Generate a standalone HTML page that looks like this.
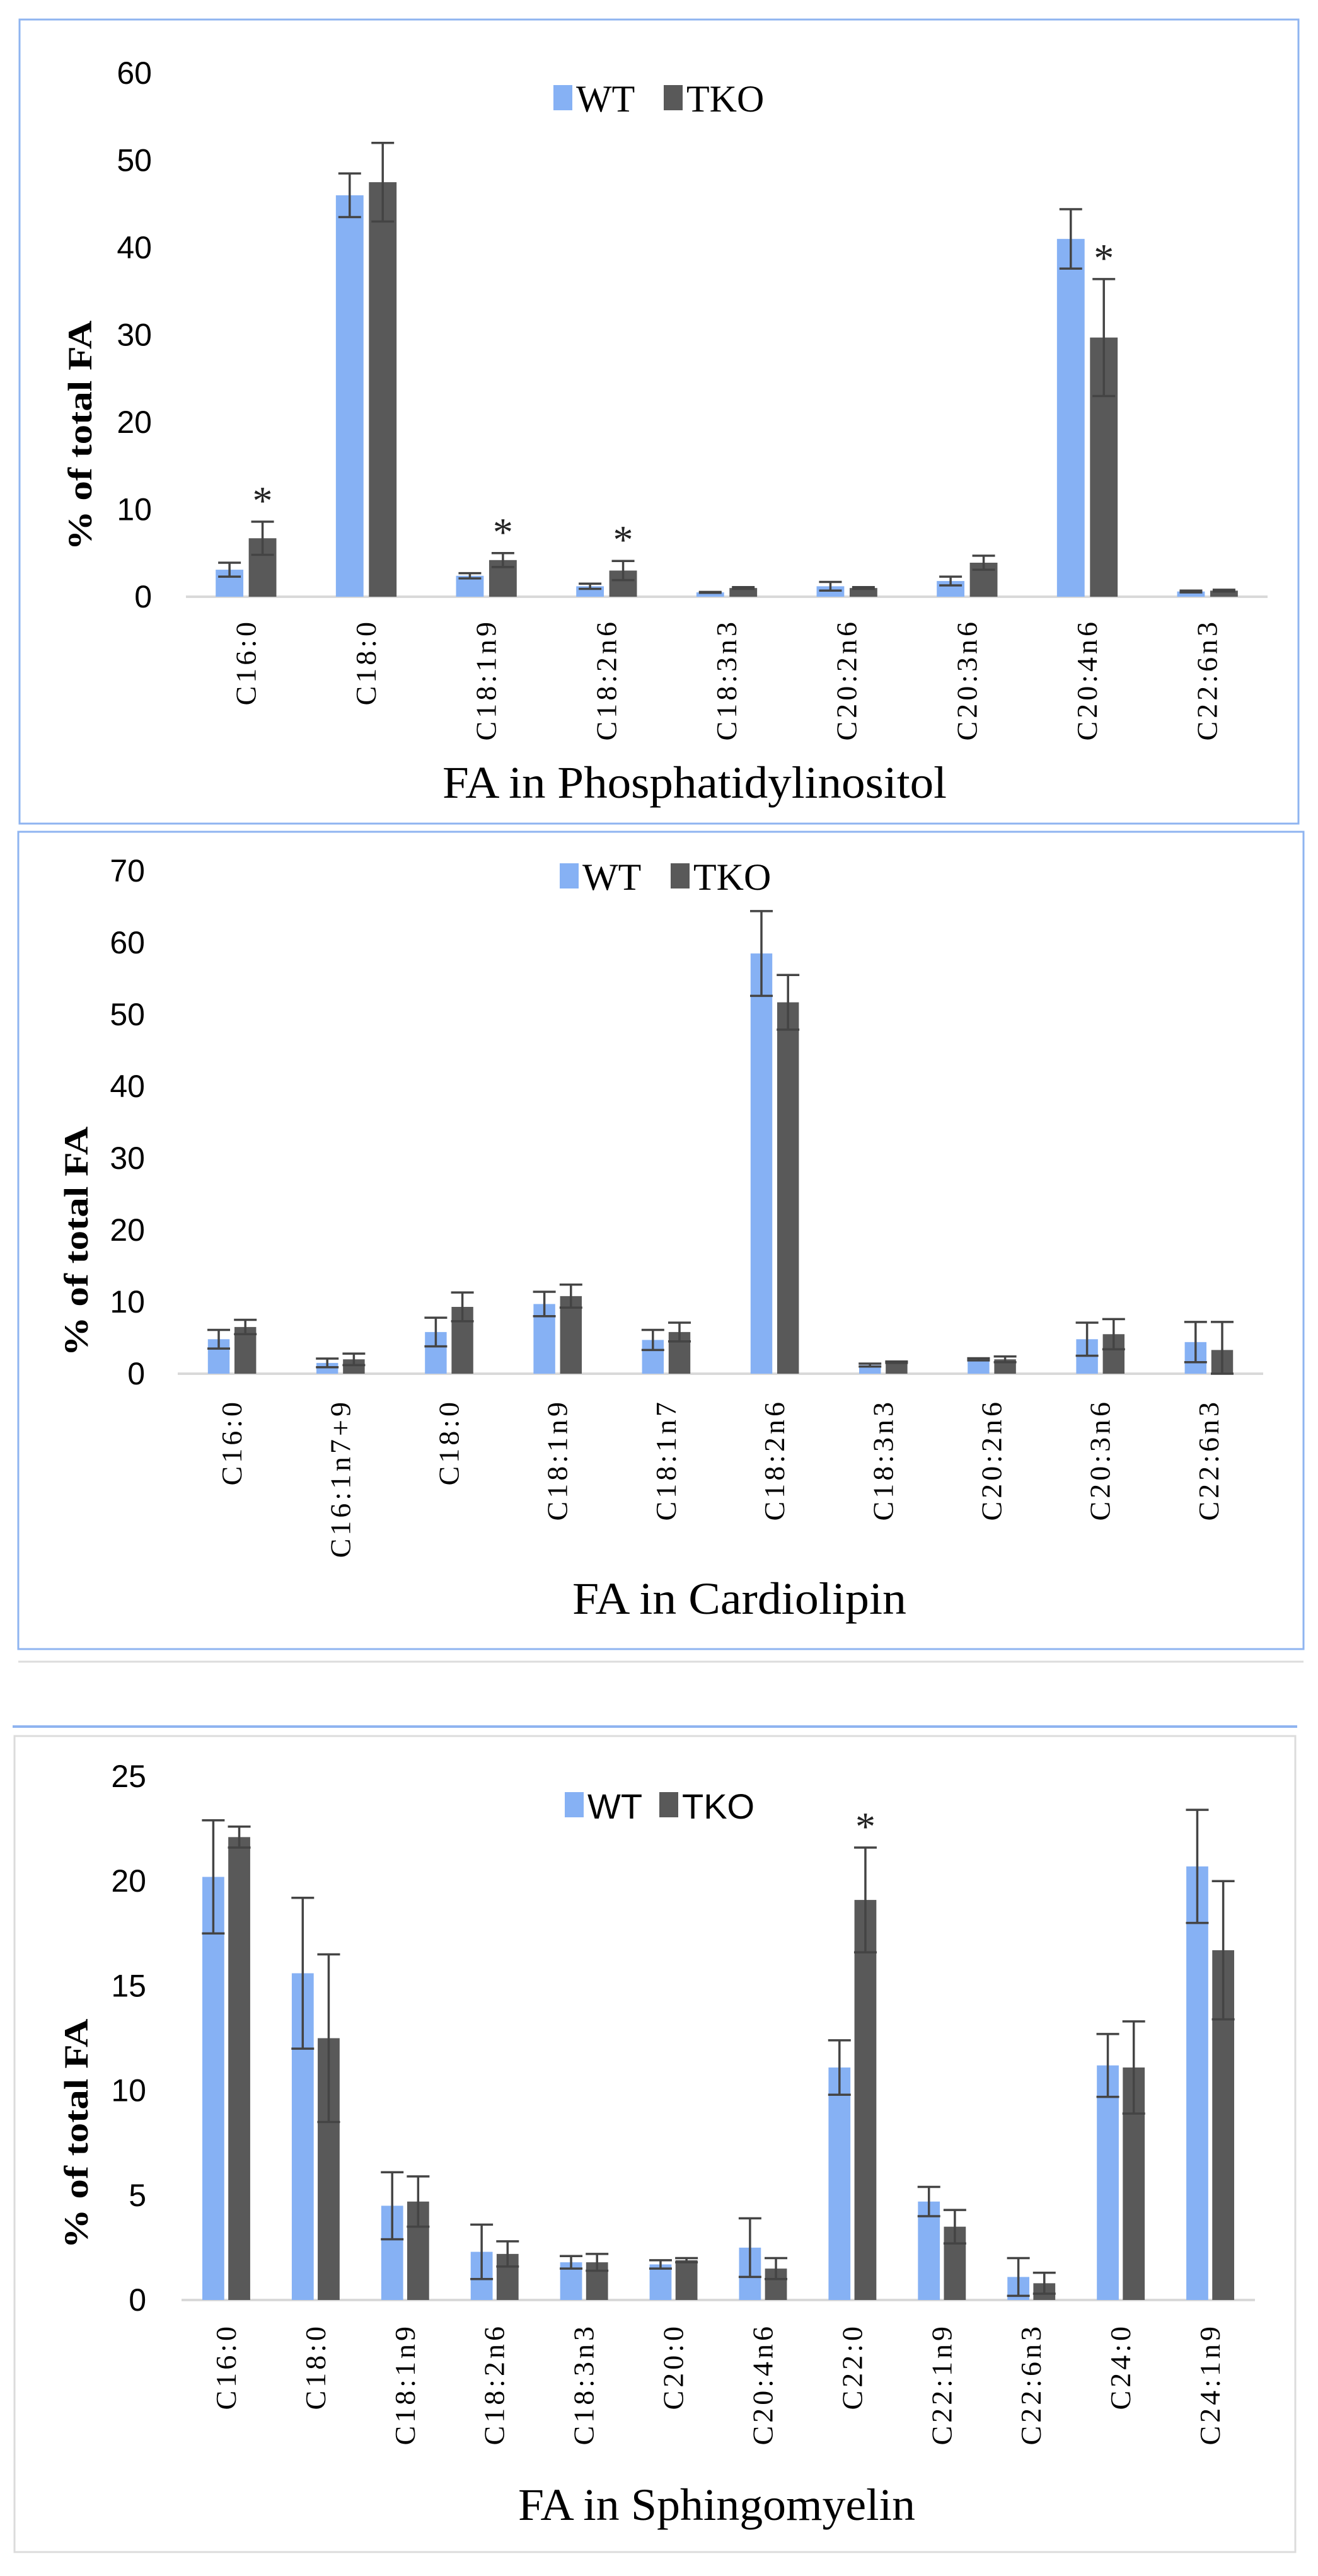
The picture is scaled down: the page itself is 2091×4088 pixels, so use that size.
<!DOCTYPE html>
<html><head><meta charset="utf-8"><style>
html,body{margin:0;padding:0;background:#fff;}
svg{display:block;}
</style></head><body>
<svg id="fig" width="2091" height="4088" viewBox="0 0 2091 4088" xmlns="http://www.w3.org/2000/svg">
  <rect x="0" y="0" width="2091" height="4088" fill="#fff"/>
  <rect x="31" y="31" width="2029" height="1276" fill="none" stroke="#8fb4f0" stroke-width="3"/>
  <rect x="29" y="1320" width="2039" height="1297" fill="none" stroke="#8fb4f0" stroke-width="3"/>
  <line x1="29" y1="2637" x2="2068" y2="2637" stroke="#dcdcdc" stroke-width="3"/>
  <line x1="20" y1="2740" x2="2058" y2="2740" stroke="#8fb4f0" stroke-width="4"/>
  <rect x="23" y="2755" width="2032" height="1295" fill="none" stroke="#dcdcdc" stroke-width="3"/>
  <g id="charts"></g>
</svg>
<script>
// ---- Phosphatidylinositol ----
const piCategories = ["C16:0","C18:0","C18:1n9","C18:2n6","C18:3n3","C20:2n6","C20:3n6","C20:4n6","C22:6n3"];
const piWT = [3.1,46.0,2.4,1.2,0.5,1.2,1.8,41.0,0.6];
const piTKO = [6.7,47.5,4.2,3.0,1.0,1.0,3.9,29.7,0.7];
const piWTErr = [0.8,2.5,0.3,0.3,0.05,0.5,0.5,3.4,0.1];
const piTKOErr = [1.9,4.5,0.8,1.1,0.1,0.1,0.8,6.7,0.1];
const piStars = [1,0,1,1,0,0,0,1,0];
const piTicks = [0,10,20,30,40,50,60];
// ---- Cardiolipin ----
const clCategories = ["C16:0","C16:1n7+9","C18:0","C18:1n9","C18:1n7","C18:2n6","C18:3n3","C20:2n6","C20:3n6","C22:6n3"];
const clWT = [4.8,1.5,5.8,9.7,4.7,58.5,1.2,2.0,4.8,4.4];
const clTKO = [6.5,2.0,9.3,10.8,5.8,51.7,1.6,2.0,5.5,3.3];
const clWTErr = [1.3,0.6,2.0,1.7,1.4,5.9,0.2,0.15,2.3,2.8];
const clTKOErr = [1.0,0.8,2.0,1.6,1.3,3.8,0.1,0.4,2.1,3.9];
const clStars = [0,0,0,0,0,0,0,0,0,0];
const clTicks = [0,10,20,30,40,50,60,70];
// ---- Sphingomyelin ----
const smCategories = ["C16:0","C18:0","C18:1n9","C18:2n6","C18:3n3","C20:0","C20:4n6","C22:0","C22:1n9","C22:6n3","C24:0","C24:1n9"];
const smWT = [20.2,15.6,4.5,2.3,1.8,1.7,2.5,11.1,4.7,1.1,11.2,20.7];
const smTKO = [22.1,12.5,4.7,2.2,1.8,1.9,1.5,19.1,3.5,0.8,11.1,16.7];
const smWTErr = [2.7,3.6,1.6,1.3,0.3,0.2,1.4,1.3,0.7,0.9,1.5,2.7];
const smTKOErr = [0.5,4.0,1.2,0.6,0.4,0.1,0.5,2.5,0.8,0.5,2.2,3.3];
const smStars = [0,0,0,0,0,0,0,1,0,0,0,0];
const smTicks = [0,5,10,15,20,25];

const NS = "http://www.w3.org/2000/svg";
const root = document.getElementById("charts");
function mk(tag, attrs, parent){
  const e = document.createElementNS(NS, tag);
  for (const k in attrs) e.setAttribute(k, attrs[k]);
  (parent||root).appendChild(e);
  return e;
}

function drawChart(id, cats, wt, tko, wtE, tkoE, stars, ticks, L){
  const g = mk("g", {});
  
  
  const maxV = ticks[ticks.length-1];
  const yScale = v => L.base - (v / maxV) * (L.base - L.top);
  const slot = (L.x1 - L.x0) / cats.length;
  const xCenter = i => L.x0 + slot * (i + 0.5);
  const bw = slot * L.bw, gap = slot * 0.045;
  const ax = mk("line", {x1:L.x0, y1:L.base, x2:L.x1, y2:L.base, stroke:"#d9d9d9", "stroke-width":4}, g);
  
  
  ticks.forEach(t => {
    const tx = mk("text", {x:L.tickX, y:yScale(t)+17, "text-anchor":"end", "font-family":'"Liberation Sans Narrow","Liberation Sans",sans-serif', "font-size":L.tickFs, fill:"#000"}, g);
    tx.textContent = t;
    
    
  });
  cats.forEach((c, i) => {
    const cx = xCenter(i);
    const series = [[wt[i], wtE[i], cx - gap/2 - bw, "#86b1f4", "wt"], [tko[i], tkoE[i], cx + gap/2, "#595959", "tko"]];
    series.forEach(s => {
      const y = yScale(s[0]);
      const r = mk("rect", {x:s[2], y:y, width:bw, height:L.base - y, fill:s[3]}, g);
      
      
      const ex = s[2] + bw/2;
      const yt = yScale(s[0] + s[1]), yb = yScale(Math.max(0, s[0] - s[1]));
      const eg = mk("g", {stroke:"#444", "stroke-width":3.5}, g);
      
      
      mk("line", {x1:ex, y1:yt, x2:ex, y2:yb}, eg);
      mk("line", {x1:ex-18, y1:yt, x2:ex+18, y2:yt}, eg);
      mk("line", {x1:ex-18, y1:yb, x2:ex+18, y2:yb}, eg);
    });
    if (stars[i]) {
      const sx = cx + gap/2 + bw/2;
      const st = mk("text", {x:sx, y:yScale(tko[i] + tkoE[i]) - 12, "text-anchor":"middle", "font-family":'"Liberation Serif",serif', "font-size":64, fill:"#222"}, g);
      st.textContent = "*";
      
      
    }
    const lx = cx + 15;
    const lb = mk("text", {x:0, y:0, transform:"translate(" + lx + "," + L.labTop + ") rotate(-90)", "text-anchor":"end", "font-family":'"Liberation Serif",serif', "font-size":L.labFs, "letter-spacing":"5", fill:"#000"}, g);
    lb.textContent = c;
    
    
  });
  const lg = mk("g", {}, g);
  
  
  const lf = L.legSans ? '"Liberation Sans Narrow","Liberation Sans",sans-serif' : '"Liberation Serif",serif';
  const r1 = mk("rect", {x:L.legX, y:L.legY-26, width:30, height:40, fill:"#86b1f4"}, lg);
  
  
  const t1 = mk("text", {x:L.legX+36, y:L.legY+16, "font-family":lf, "font-size":L.legFs, fill:"#000"}, lg);
  t1.textContent = "WT";
  
  
  const r2 = mk("rect", {x:L.legX+L.legGap, y:L.legY-26, width:30, height:40, fill:"#595959"}, lg);
  
  
  const t2 = mk("text", {x:L.legX+L.legGap+36, y:L.legY+16, "font-family":lf, "font-size":L.legFs, fill:"#000"}, lg);
  t2.textContent = "TKO";
  
  
  const yt = mk("text", {x:0, y:0, transform:"translate(" + (L.yTitleX+18) + "," + L.yTitleY + ") rotate(-90)", "text-anchor":"middle", "font-family":'"Liberation Serif",serif', "font-size":54, "font-weight":"bold", textLength:365, lengthAdjust:"spacingAndGlyphs", fill:"#000"}, g);
  yt.textContent = "% of total FA";
  
  
  const xt = mk("text", {x:L.xTitleX, y:L.xTitleY+24, "text-anchor":"middle", "font-family":'"Liberation Serif",serif', "font-size":72, textLength:L.xTitleW, lengthAdjust:"spacingAndGlyphs", fill:"#000"}, g);
  xt.textContent = L.title;
  
  
}

drawChart("pi", piCategories, piWT, piTKO, piWTErr, piTKOErr, piStars, piTicks,
  {x0:295, x1:2011, base:947, top:116, bw:0.23, tickX:241, tickFs:50, labFs:46, labTop:982,
   legX:878, legY:161, legGap:175, legFs:60, legSans:false,
   yTitleX:127, yTitleY:691, xTitleX:1102, xTitleY:1242, xTitleW:800, title:"FA in Phosphatidylinositol"});
drawChart("cl", clCategories, clWT, clTKO, clWTErr, clTKOErr, clStars, clTicks,
  {x0:282, x1:2004, base:2180, top:1382, bw:0.2, tickX:230, tickFs:50, labFs:46, labTop:2220,
   legX:888, legY:1396, legGap:176, legFs:60, legSans:false,
   yTitleX:121, yTitleY:1970, xTitleX:1173, xTitleY:2537, xTitleW:530, title:"FA in Cardiolipin"});
drawChart("sm", smCategories, smWT, smTKO, smWTErr, smTKOErr, smStars, smTicks,
  {x0:288, x1:1991, base:3650, top:2819, bw:0.245, tickX:232, tickFs:50, labFs:46, labTop:3687,
   legX:896, legY:2870, legGap:150, legFs:56, legSans:true,
   yTitleX:121, yTitleY:3386, xTitleX:1137, xTitleY:3975, xTitleW:630, title:"FA in Sphingomyelin"});
</script>
</body></html>
